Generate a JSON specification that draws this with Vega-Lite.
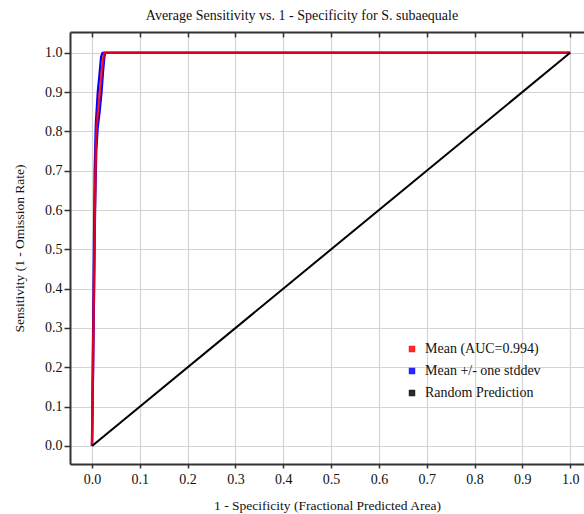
{
  "$schema": "https://vega.github.io/schema/vega-lite/v6.json",
  "width": 514,
  "height": 432,
  "autosize": "none",
  "padding": {"left": 70, "top": 32, "right": 0, "bottom": 50},
  "background": "white",
  "view": {"stroke": null},
  "title": {
    "text": "Average Sensitivity vs. 1 - Specificity for S. subaequale",
    "font": "Liberation Serif",
    "fontSize": 14,
    "fontWeight": "normal",
    "color": "#111",
    "anchor": "middle",
    "dx": -25,
    "offset": 8
  },
  "config": {
    "font": "Liberation Serif",
    "axis": {
      "labelFont": "Liberation Serif",
      "titleFont": "Liberation Serif",
      "labelFontSize": 14,
      "titleFontSize": 13.5,
      "titleFontWeight": "normal",
      "labelColor": "#111",
      "titleColor": "#111",
      "domainColor": "#333",
      "domainWidth": 2,
      "tickColor": "#333",
      "tickWidth": 1.5,
      "gridColor": "#d4d4d4",
      "gridWidth": 1.2,
      "gridOpacity": 1
    }
  },
  "data": {
    "values": [
      {"series": "Mean +/- one stddev", "grp": "up", "x": 0, "y": 0},
      {"series": "Mean +/- one stddev", "grp": "up", "x": 0.0015, "y": 0.2},
      {"series": "Mean +/- one stddev", "grp": "up", "x": 0.0035, "y": 0.45},
      {"series": "Mean +/- one stddev", "grp": "up", "x": 0.0055, "y": 0.7},
      {"series": "Mean +/- one stddev", "grp": "up", "x": 0.008, "y": 0.82},
      {"series": "Mean +/- one stddev", "grp": "up", "x": 0.012, "y": 0.9},
      {"series": "Mean +/- one stddev", "grp": "up", "x": 0.016, "y": 0.95},
      {"series": "Mean +/- one stddev", "grp": "up", "x": 0.019, "y": 0.99},
      {"series": "Mean +/- one stddev", "grp": "up", "x": 0.022, "y": 1.0},
      {"series": "Mean +/- one stddev", "grp": "up", "x": 1.0, "y": 1.0},
      {"series": "Mean +/- one stddev", "grp": "lo", "x": 0, "y": 0},
      {"series": "Mean +/- one stddev", "grp": "lo", "x": 0.0025, "y": 0.2},
      {"series": "Mean +/- one stddev", "grp": "lo", "x": 0.0045, "y": 0.4},
      {"series": "Mean +/- one stddev", "grp": "lo", "x": 0.0065, "y": 0.6},
      {"series": "Mean +/- one stddev", "grp": "lo", "x": 0.009, "y": 0.75},
      {"series": "Mean +/- one stddev", "grp": "lo", "x": 0.012, "y": 0.81},
      {"series": "Mean +/- one stddev", "grp": "lo", "x": 0.016, "y": 0.85},
      {"series": "Mean +/- one stddev", "grp": "lo", "x": 0.02, "y": 0.9},
      {"series": "Mean +/- one stddev", "grp": "lo", "x": 0.023, "y": 0.95},
      {"series": "Mean +/- one stddev", "grp": "lo", "x": 0.026, "y": 0.99},
      {"series": "Mean +/- one stddev", "grp": "lo", "x": 0.028, "y": 1.0},
      {"series": "Mean +/- one stddev", "grp": "lo", "x": 1.0, "y": 1.0},
      {"series": "Mean (AUC=0.994)", "grp": "mean", "x": 0, "y": 0},
      {"series": "Mean (AUC=0.994)", "grp": "mean", "x": 0.002, "y": 0.2},
      {"series": "Mean (AUC=0.994)", "grp": "mean", "x": 0.004, "y": 0.4},
      {"series": "Mean (AUC=0.994)", "grp": "mean", "x": 0.006, "y": 0.6},
      {"series": "Mean (AUC=0.994)", "grp": "mean", "x": 0.008, "y": 0.75},
      {"series": "Mean (AUC=0.994)", "grp": "mean", "x": 0.01, "y": 0.82},
      {"series": "Mean (AUC=0.994)", "grp": "mean", "x": 0.014, "y": 0.87},
      {"series": "Mean (AUC=0.994)", "grp": "mean", "x": 0.018, "y": 0.92},
      {"series": "Mean (AUC=0.994)", "grp": "mean", "x": 0.021, "y": 0.96},
      {"series": "Mean (AUC=0.994)", "grp": "mean", "x": 0.024, "y": 0.99},
      {"series": "Mean (AUC=0.994)", "grp": "mean", "x": 0.026, "y": 1.0},
      {"series": "Mean (AUC=0.994)", "grp": "mean", "x": 1.0, "y": 1.0},
      {"series": "Random Prediction", "grp": "rand", "x": 0, "y": 0},
      {"series": "Random Prediction", "grp": "rand", "x": 1.0, "y": 1.0}
    ]
  },
  "layer": [
    {
      "mark": {"type": "line", "clip": true},
      "transform": [{"filter": "datum.grp === 'up' || datum.grp === 'lo'"}],
      "encoding": {
        "x": {"field": "x", "type": "quantitative", "scale": {"domain": [-0.046, 1.029], "nice": false, "zero": false},
          "axis": {"orient": "bottom", "values": [0, 0.1, 0.2, 0.3, 0.4, 0.5, 0.6, 0.7, 0.8, 0.9, 1.0], "format": ".1f", "title": "1 - Specificity (Fractional Predicted Area)", "tickSize": 4, "labelPadding": 4, "titlePadding": 12}},
        "y": {"field": "y", "type": "quantitative", "scale": {"domain": [-0.046, 1.053], "nice": false, "zero": false},
          "axis": {"values": [0, 0.1, 0.2, 0.3, 0.4, 0.5, 0.6, 0.7, 0.8, 0.9, 1.0], "format": ".1f", "title": "Sensitivity (1 - Omission Rate)", "tickSize": 6, "labelPadding": 2, "titlePadding": 18}},
        "detail": {"field": "grp"},
        "order": {"field": "y"},
        "color": {"field": "series", "type": "nominal",
          "scale": {"domain": ["Mean (AUC=0.994)", "Mean +/- one stddev", "Random Prediction"], "range": ["#ff0000", "#0000ff", "#000000"]},
          "legend": {"orient": "none", "legendX": 335, "legendY": 310, "title": null, "symbolType": "square", "symbolSize": 12, "symbolStrokeWidth": 3, "labelFont": "Liberation Serif", "labelFontSize": 14, "labelColor": "#111", "rowPadding": 6, "labelOffset": 6, "symbolOpacity": 1}},
        "strokeWidth": {"value": 2.2}
      }
    },
    {
      "mark": {"type": "line", "clip": true, "opacity": 0.85},
      "transform": [{"filter": "datum.grp === 'mean'"}],
      "encoding": {
        "x": {"field": "x", "type": "quantitative", "axis": null},
        "y": {"field": "y", "type": "quantitative"},
        "order": {"field": "y"},
        "color": {"field": "series", "type": "nominal"},
        "strokeWidth": {"value": 2.5}
      }
    },
    {
      "mark": {"type": "line", "clip": true},
      "transform": [{"filter": "datum.grp === 'rand'"}],
      "encoding": {
        "x": {"field": "x", "type": "quantitative", "axis": null},
        "y": {"field": "y", "type": "quantitative"},
        "color": {"field": "series", "type": "nominal"},
        "strokeWidth": {"value": 2}
      }
    },
    {
      "mark": {"type": "rule", "opacity": 0},
      "transform": [{"filter": "datum.grp === 'rand'"}],
      "encoding": {
        "x": {"field": "x", "type": "quantitative", "axis": {"orient": "top", "values": [0, 0.1, 0.2, 0.3, 0.4, 0.5, 0.6, 0.7, 0.8, 0.9, 1.0], "labels": false, "title": null, "grid": false, "ticks": true, "tickSize": -5, "tickWidth": 1.5}}
      }
    }
  ],
  "resolve": {"axis": {"x": "independent"}}
}
